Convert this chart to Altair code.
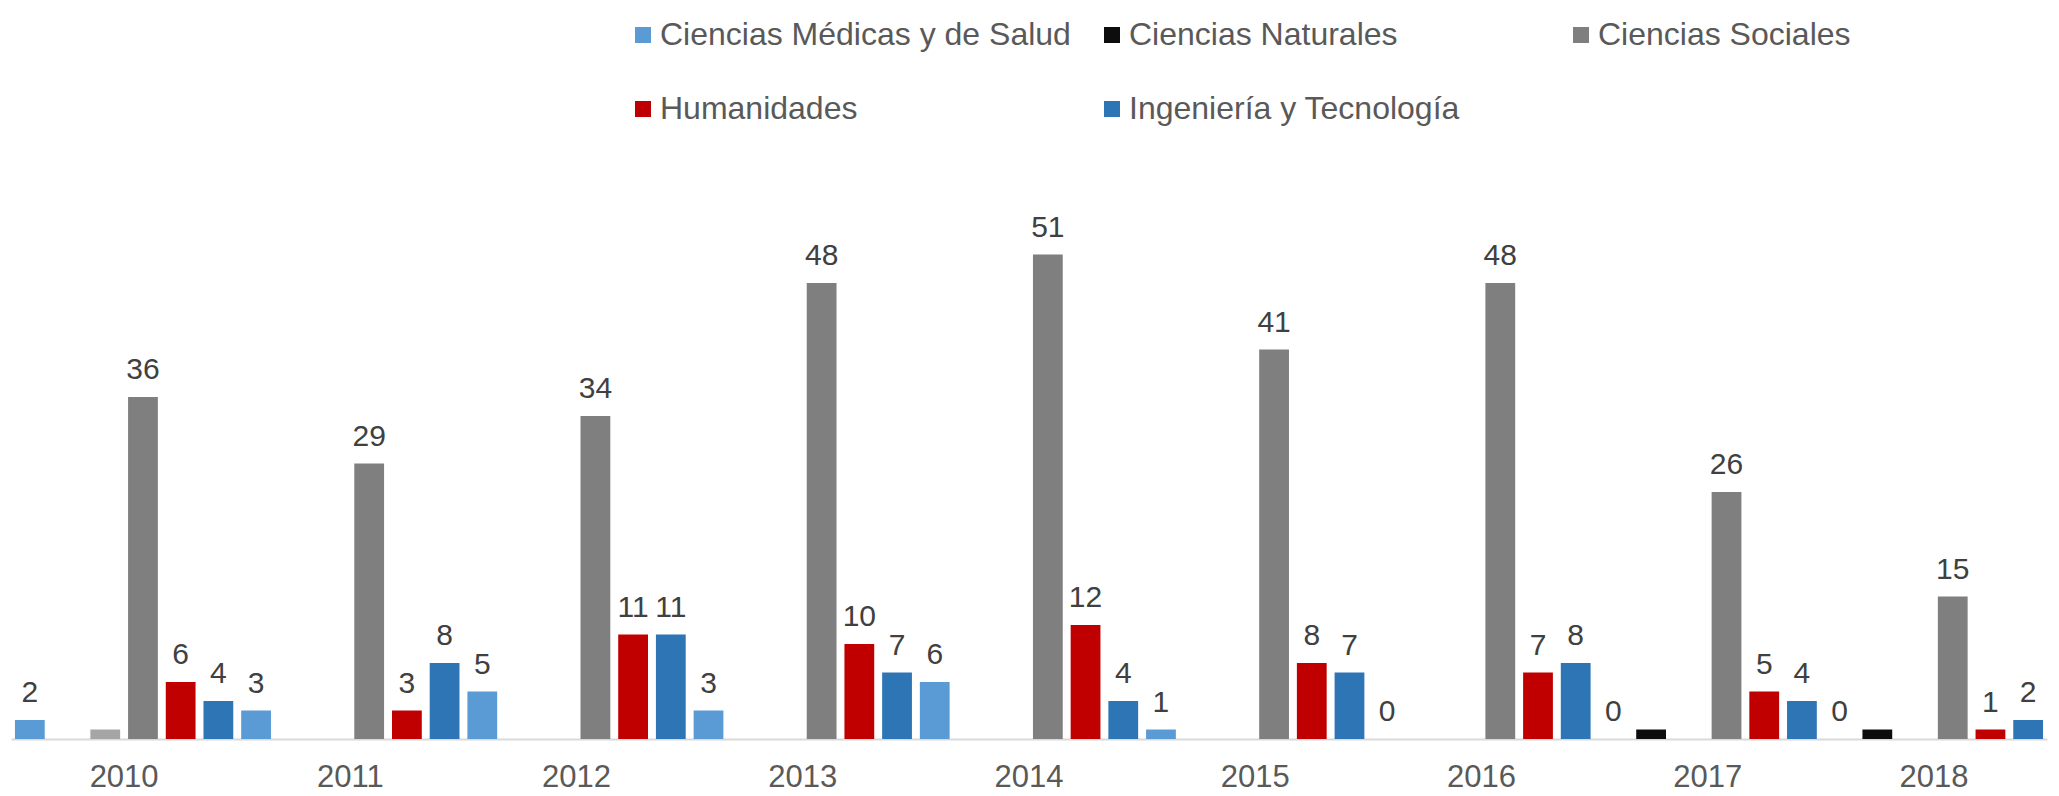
import altair as alt
import pandas as pd

years = ["2010", "2011", "2012", "2013", "2014", "2015", "2016", "2017", "2018"]
series = [
    "Ciencias Médicas y de Salud",
    "Ciencias Naturales",
    "Ciencias Agrícolas",
    "Ciencias Sociales",
    "Humanidades",
    "Ingeniería y Tecnología",
]
colors = ["#5B9BD5", "#0D0D0D", "#A5A5A5", "#7F7F7F", "#C00000", "#2E75B6"]
legend_series = [
    "Ciencias Médicas y de Salud",
    "Ciencias Naturales",
    "Ciencias Sociales",
    "Humanidades",
    "Ingeniería y Tecnología",
]
labelled_series = [
    "Ciencias Médicas y de Salud",
    "Ciencias Sociales",
    "Humanidades",
    "Ingeniería y Tecnología",
]

medicas = [2, 3, 5, 3, 6, 1, 0, 0, 0]
naturales = [None, None, None, None, None, None, None, 1, 1]
agricolas = [1, None, None, None, None, None, None, None, None]
sociales = [36, 29, 34, 48, 51, 41, 48, 26, 15]
humanidades = [6, 3, 11, 10, 12, 8, 7, 5, 1]
ingenieria = [4, 8, 11, 7, 4, 7, 8, 4, 2]

values_by_series = [medicas, naturales, agricolas, sociales, humanidades, ingenieria]
rows = []
for name, vals in zip(series, values_by_series):
    for y, v in zip(years, vals):
        if v is not None:
            rows.append({"year": y, "series": name, "value": v})
df = pd.DataFrame(rows)

FONT = "Liberation Sans"

base = alt.Chart(df).encode(
    x=alt.X(
        "year:N",
        sort=years,
        scale=alt.Scale(domain=years, paddingInner=0, paddingOuter=0),
        axis=alt.Axis(
            title=None,
            labelAngle=0,
            ticks=False,
            tickSize=0,
            grid=False,
            domainColor="#D9D9D9",
            domainWidth=2,
            labelFont=FONT,
            labelFontSize=31,
            labelColor="#595959",
            labelPadding=23,
        ),
    ),
    xOffset=alt.XOffset(
        "series:N",
        sort=series,
        scale=alt.Scale(domain=series, paddingInner=0.21, paddingOuter=0.105),
    ),
    y=alt.Y("value:Q", scale=alt.Scale(domain=[0, 60], nice=False), axis=None),
)

bars = base.mark_bar().encode(
    color=alt.Color(
        "series:N",
        scale=alt.Scale(domain=series, range=colors),
        legend=alt.Legend(
            title=None,
            values=legend_series,
            orient="none",
            direction="horizontal",
            legendX=616,
            legendY=-150,
            columns=3,
            gridAlign="all",
            columnPadding=25,
            rowPadding=42,
            padding=0,
            symbolType="square",
            symbolSize=256,
            symbolStrokeWidth=0,
            labelFont=FONT,
            labelFontSize=32,
            labelColor="#595959",
            labelLimit=1000,
            labelOffset=1,
        ),
    )
)

labels = (
    base.transform_filter(alt.FieldOneOfPredicate(field="series", oneOf=labelled_series))
    .mark_text(baseline="alphabetic", dy=-18, fontSize=30, font=FONT, color="#404040")
    .encode(text="value:Q")
)

chart = (
    alt.layer(bars, labels)
    .properties(
        width=2036,
        height=570,
        autosize=alt.AutoSizeParams(type="none"),
        padding={"left": 3, "top": 161, "right": 2, "bottom": 56},
    )
    .configure_view(stroke=None)
)

chart.save("out.html", embed_options={"renderer": "svg", "actions": False})
